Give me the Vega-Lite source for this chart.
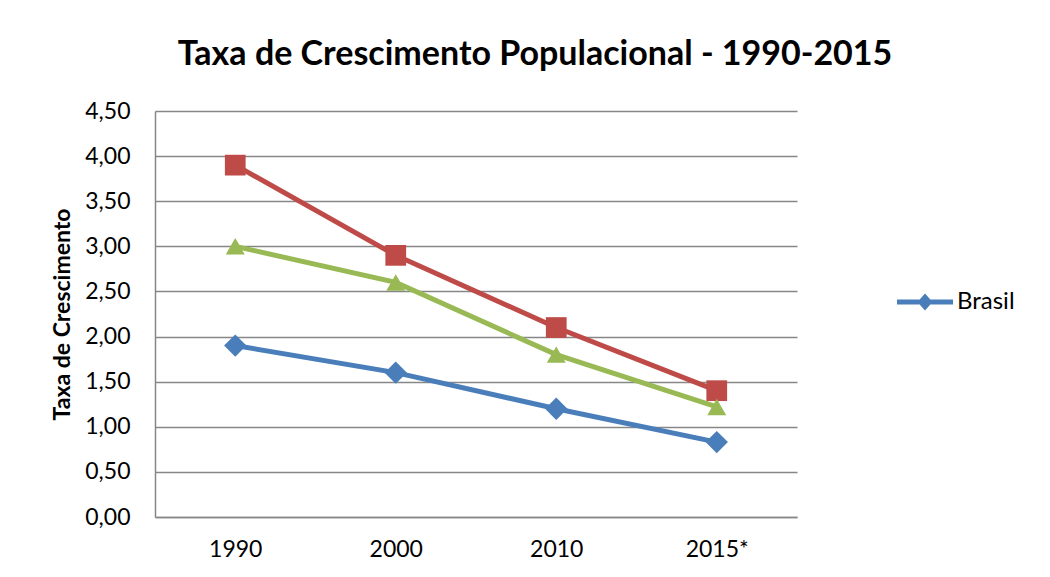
{
  "$schema": "https://vega.github.io/schema/vega-lite/v6.json",
  "width": 642,
  "height": 406,
  "autosize": {"type": "none"},
  "padding": {"left": 155, "top": 111, "right": 253, "bottom": 60},
  "background": "white",
  "config": {
    "locale": {"number": {"decimal": ",", "thousands": ".", "grouping": [3], "currency": ["R$", ""]}},
    "view": {"stroke": null},
    "font": "Lato"
  },
  "title": {
    "text": "Taxa de Crescimento Populacional - 1990-2015",
    "font": "Lato",
    "fontSize": 34,
    "fontWeight": "bold",
    "color": "#000000",
    "anchor": "middle",
    "frame": "group",
    "dx": 59,
    "offset": 28
  },
  "data": {
    "values": [
      {"ano": "1990", "serie": "Brasil", "valor": 1.90},
      {"ano": "2000", "serie": "Brasil", "valor": 1.60},
      {"ano": "2010", "serie": "Brasil", "valor": 1.20},
      {"ano": "2015*", "serie": "Brasil", "valor": 0.83},
      {"ano": "1990", "serie": "Série 2", "valor": 3.90},
      {"ano": "2000", "serie": "Série 2", "valor": 2.90},
      {"ano": "2010", "serie": "Série 2", "valor": 2.10},
      {"ano": "2015*", "serie": "Série 2", "valor": 1.40},
      {"ano": "1990", "serie": "Série 3", "valor": 3.00},
      {"ano": "2000", "serie": "Série 3", "valor": 2.60},
      {"ano": "2010", "serie": "Série 3", "valor": 1.80},
      {"ano": "2015*", "serie": "Série 3", "valor": 1.22}
    ]
  },
  "encoding": {
    "x": {
      "field": "ano",
      "type": "ordinal",
      "sort": null,
      "scale": {"padding": 0.5},
      "axis": {
        "title": null,
        "labelAngle": 0,
        "labelFont": "Lato",
        "labelFontSize": 23,
        "labelColor": "#000000",
        "labelPadding": 21,
        "ticks": false,
        "grid": false,
        "domainColor": "#878787",
        "domainWidth": 1.5
      }
    },
    "y": {
      "field": "valor",
      "type": "quantitative",
      "scale": {"domain": [0, 4.5], "nice": false},
      "axis": {
        "title": "Taxa de Crescimento",
        "titleFont": "Lato",
        "titleFontSize": 23,
        "titleFontWeight": "bold",
        "titleColor": "#000000",
        "titlePadding": 10,
        "values": [0, 0.5, 1, 1.5, 2, 2.5, 3, 3.5, 4, 4.5],
        "format": ".2f",
        "labelFont": "Lato",
        "labelFontSize": 23,
        "labelColor": "#000000",
        "labelPadding": 25,
        "ticks": false,
        "grid": true,
        "gridColor": "#878787",
        "gridWidth": 1.5,
        "domainColor": "#878787",
        "domainWidth": 1.5
      }
    }
  },
  "layer": [
    {
      "mark": {"type": "line", "strokeWidth": 5},
      "encoding": {
        "color": {
          "field": "serie",
          "type": "nominal",
          "scale": {"domain": ["Brasil", "Série 2", "Série 3"], "range": ["#4a7ebb", "#be4b48", "#98b954"]},
          "legend": {
            "values": ["Brasil"],
            "title": null,
            "orient": "none",
            "legendX": 742,
            "legendY": 163,
            "padding": 0,
            "labelFont": "Lato",
            "labelFontSize": 24,
            "labelColor": "#000000",
            "labelOffset": 4,
            "symbolType": "M-1,-0.09L1,-0.09L1,0.09L-1,0.09Z M0,-0.3L0.27,0L0,0.3L-0.27,0Z",
            "symbolSize": 3136,
            "symbolStrokeWidth": 0,
            "symbolFillColor": "#4a7ebb",
            "encode": {
              "symbols": {
                "update": {
                  "fill": {"value": "#4a7ebb"},
                  "stroke": {"value": "transparent"},
                  "opacity": {"value": 1}
                }
              }
            }
          }
        }
      }
    },
    {
      "mark": {"type": "point", "filled": true, "opacity": 1},
      "encoding": {
        "color": {
          "field": "serie",
          "type": "nominal",
          "scale": {"domain": ["Brasil", "Série 2", "Série 3"], "range": ["#4a7ebb", "#be4b48", "#98b954"]},
          "legend": null
        },
        "shape": {
          "field": "serie",
          "type": "nominal",
          "scale": {"domain": ["Brasil", "Série 2", "Série 3"], "range": ["diamond", "square", "triangle-up"]},
          "legend": null
        },
        "size": {
          "field": "serie",
          "type": "nominal",
          "scale": {"domain": ["Brasil", "Série 2", "Série 3"], "range": [500, 360, 460]},
          "legend": null
        }
      }
    }
  ],
  "resolve": {"legend": {"color": "independent", "shape": "independent", "size": "independent"}}
}
